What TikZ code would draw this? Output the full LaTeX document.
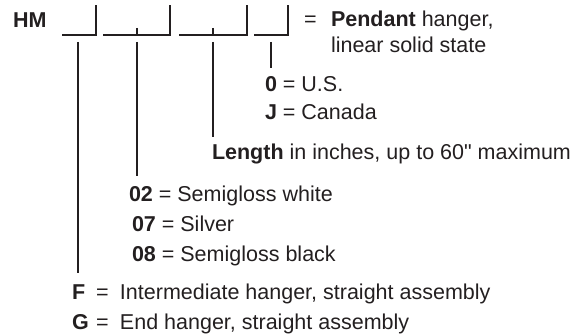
\documentclass[tikz,border=0pt]{standalone}
\usepackage{fontspec}
\setmainfont{Liberation Sans}
\definecolor{ink}{HTML}{231F20}
\begin{document}
\begin{tikzpicture}[x=1pt,y=-1pt,
  txt/.style={inner sep=0pt,outer sep=0pt,anchor=base west,text=ink,font=\fontsize{21.5}{26}\selectfont},
  brk/.style={draw=ink,line width=1.1pt},
  lead/.style={draw=ink,line width=1.1pt}]
\useasboundingbox (0,0) rectangle (575,336);
% code label
\node[txt] (hm) at (13,28) {\textbf{HM}};
% brackets
\coordinate (b1l) at (62,35); \coordinate (b1r) at (96,35); \coordinate (b1t) at (96,5);
\coordinate (b2l) at (103,35); \coordinate (b2r) at (170,35); \coordinate (b2t) at (170,5);
\coordinate (b3l) at (179,35); \coordinate (b3r) at (247,35); \coordinate (b3t) at (247,5);
\coordinate (b4l) at (254,35); \coordinate (b4r) at (288,35); \coordinate (b4t) at (288,5);
\coordinate (k2a) at (137,28); \coordinate (k2b) at (137,35);
\coordinate (k3a) at (213,28); \coordinate (k3b) at (213,35);
\draw[brk] (b1l) -- (b1r) -- (b1t);
\draw[brk] (b2l) -- (b2r) -- (b2t);
\draw[brk] (b3l) -- (b3r) -- (b3t);
\draw[brk] (b4l) -- (b4r) -- (b4t);
\draw[brk] (k2a) -- (k2b);
\draw[brk] (k3a) -- (k3b);
% texts
\node[txt] (eq) at (304,27) {=};
\node[txt] (pend) at (331,27) {\textbf{Pendant} hanger,};
\node[txt] (pend2) at (331,53) {linear solid state};
\node[txt] (us) at (265,92) {\textbf{0} = U.S.};
\node[txt] (ca) at (265,120) {\textbf{J} = Canada};
\node[txt] (len) at (212,160) {\textbf{Length} in inches, up to 60\textquotedbl{} maximum};
\node[txt] (c02) at (129,202) {\textbf{02} = Semigloss white};
\node[txt] (c07) at (132,232) {\textbf{07} = Silver};
\node[txt] (c08) at (132,262) {\textbf{08} = Semigloss black};
\node[txt] (cf) at (72,300) {\makebox[24pt][l]{\textbf{F}}\makebox[24pt][l]{=}Intermediate hanger, straight assembly};
\node[txt] (cg) at (72,330) {\makebox[24pt][l]{\textbf{G}}\makebox[24pt][l]{=}End hanger, straight assembly};
% leaders
\coordinate (l1a) at (78,42);  \coordinate (l1b) at (78,273);
\coordinate (l2a) at (137,42); \coordinate (l2b) at (137,176);
\coordinate (l3a) at (213,42); \coordinate (l3b) at (213,137);
\coordinate (l4a) at (271,42); \coordinate (l4b) at (271,68);
\draw[lead] (l1a) -- (l1b);
\draw[lead] (l2a) -- (l2b);
\draw[lead] (l3a) -- (l3b);
\draw[lead] (l4a) -- (l4b);
\end{tikzpicture}
\end{document}
